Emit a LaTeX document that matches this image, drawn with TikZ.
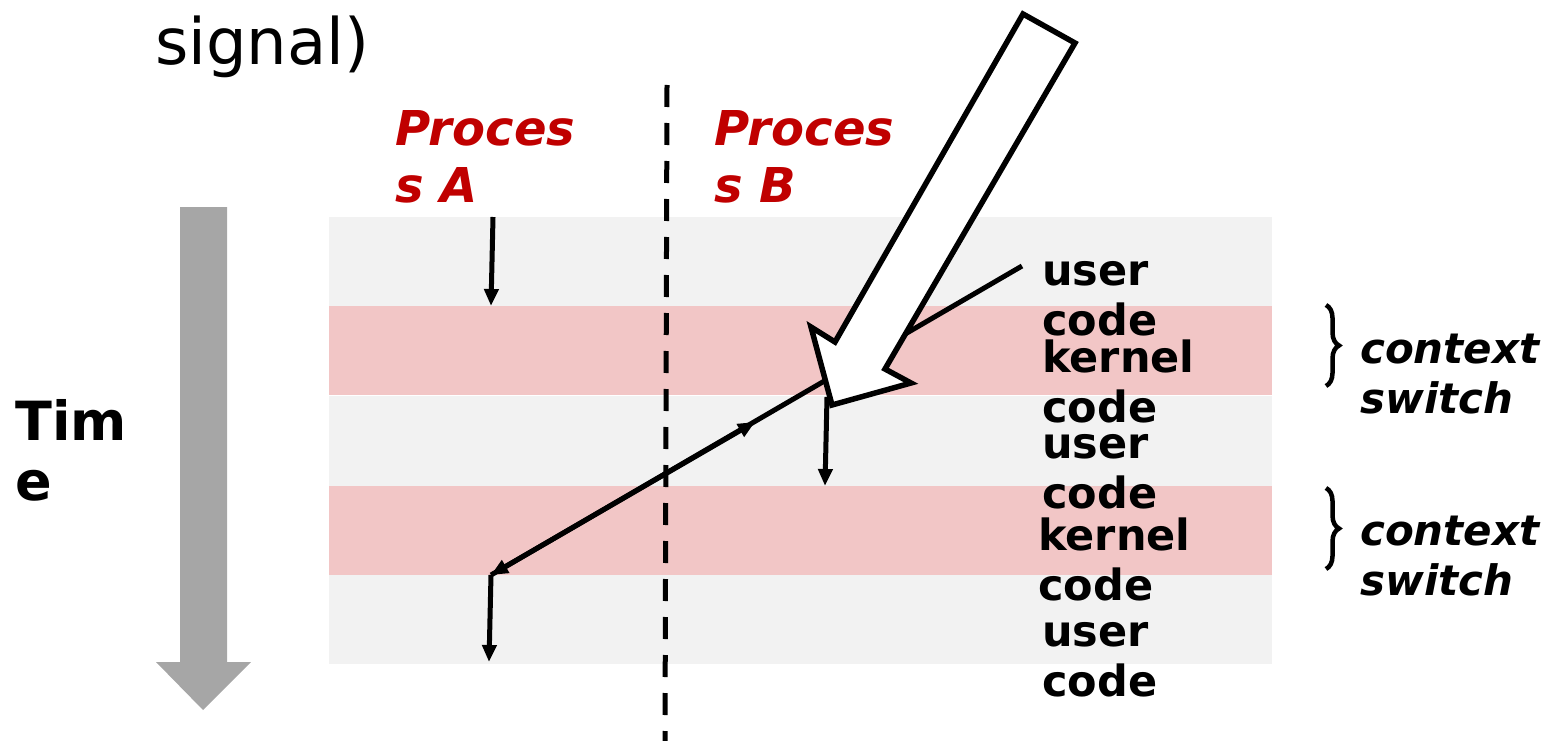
\documentclass[tikz,border=0pt]{standalone}
\usepackage{fontspec}
\setmainfont{DejaVu Sans}
\usetikzlibrary{arrows.meta,decorations.pathreplacing}
\definecolor{bandgrey}{RGB}{242,242,242}
\definecolor{bandpink}{RGB}{242,198,198}
\definecolor{timegrey}{RGB}{166,166,166}
\definecolor{procred}{RGB}{192,0,0}
\begin{document}
\begin{tikzpicture}[x=1pt,y=-1pt,
  every node/.style={inner sep=0pt, anchor=base west, align=left},
  proc/.style={font=\fontsize{48}{57}\selectfont\bfseries\itshape, text=procred},
  mode/.style={font=\fontsize{43}{50}\selectfont\bfseries},
  switch/.style={font=\fontsize{42}{50}\selectfont\bfseries\itshape},
  flow/.style={line width=5pt, -{Triangle[length=17pt,width=14pt]}},
  brc/.style={line width=4.5pt, decorate, decoration={brace, amplitude=13pt}}]
\useasboundingbox (0,0) rectangle (1545,741);
% user / kernel bands
\fill[bandgrey] (329,217) rectangle (1272,306);
\fill[bandpink] (329,306) rectangle (1272,395);
\fill[bandgrey] (329,396) rectangle (1272,486);
\fill[bandpink] (329,486) rectangle (1272,575);
\fill[bandgrey] (329,575) rectangle (1272,664);
% time arrow
\fill[timegrey] (180,207) -- (227,207) -- (227,662) -- (251,662) -- (203,710)
  -- (156,662) -- (180,662) -- cycle;
% labels (anchored at the baseline of their last line)
\node (sig) at (155,65) {\fontsize{64}{70}\selectfont signal)};
\node[font=\fontsize{54}{60}\selectfont\bfseries] (time) at (15,500) {Tim\\e};
\node[proc] (pa) at (395,202) {Proces\\s A};
\node[proc] (pb) at (714,202) {Proces\\s B};
\node[mode] (u1) at (1042,335) {user\\code};
\node[mode] (k1) at (1042,422) {kernel\\code};
\node[mode] (u2) at (1042,508) {user\\code};
\node[mode] (k2) at (1038,600) {kernel\\code};
\node[mode] (u3) at (1042,696) {user\\code};
\node[switch] (cs1) at (1360,413) {context\\switch};
\node[switch] (cs2) at (1360,595) {context\\switch};
% divider
\coordinate (d0) at (667,85);
\coordinate (d1) at (665,741);
\draw[line width=5pt, dash pattern=on 22pt off 16pt] (d0) -- (d1);
% control flow
\coordinate (a0) at (493,217);
\coordinate (a1) at (491,306);
\coordinate (b0) at (1022,266);
\coordinate (a2) at (491,575);
\coordinate (bm) at (755,422);
\coordinate (b1) at (827,397);
\coordinate (b2) at (825,486);
\coordinate (a3) at (489,662);
\draw[flow] (a0) -- (a1);
\draw[flow] (b0) -- (a2);
\draw[flow] (a2) -- (bm);
\draw[flow] (b1) -- (b2);
\draw[flow] (a2) -- (a3);
% interrupt arrow
\draw[line width=5.5pt, fill=white, line join=miter] (1023,14) -- (1075,43) -- (885,369)
  -- (911,383) -- (832,405) -- (811,327) -- (835,342) -- cycle;
% braces
\draw[brc] (1326,305) -- (1326,386);
\draw[brc] (1326,488) -- (1326,569);
\end{tikzpicture}
\end{document}
